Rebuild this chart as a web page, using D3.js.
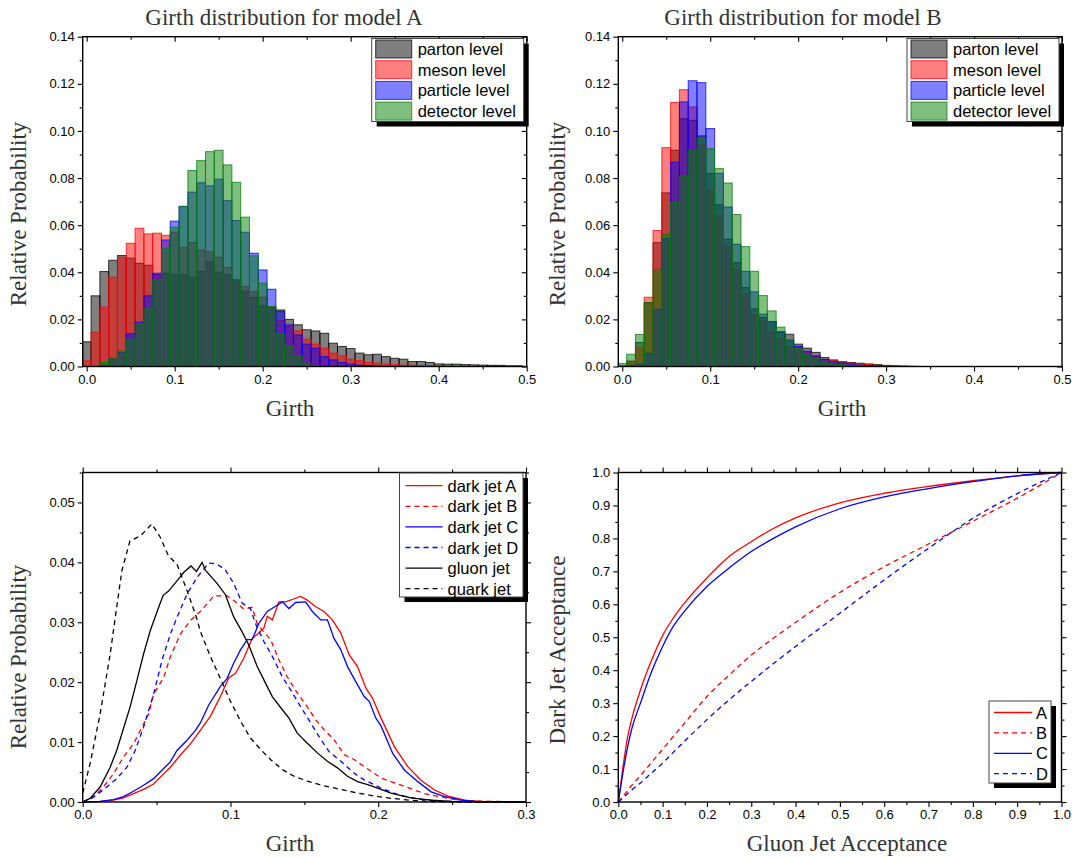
<!DOCTYPE html>
<html lang="en">
<head>
<meta charset="utf-8">
<title>Girth distributions</title>
<style>
  body { margin: 0; background: #fff; }
  .lbl { font-family: "Liberation Serif", "Times New Roman", serif; font-size: 23px; fill: #333; }
  .leg { font-family: "Liberation Sans", Arial, sans-serif; font-size: 16.5px; fill: #000; }
</style>
</head>
<body>
<svg id="chart" width="1072" height="858"></svg>
<script src="https://d3js.org/d3.v7.min.js"></script>
<script>
// ---- histogram data (bin width 0.01, centres 0.00 ... 0.49) ----
const binCenters = [0.00,0.01,0.02,0.03,0.04,0.05,0.06,0.07,0.08,0.09,
                    0.10,0.11,0.12,0.13,0.14,0.15,0.16,0.17,0.18,0.19,
                    0.20,0.21,0.22,0.23,0.24,0.25,0.26,0.27,0.28,0.29,
                    0.30,0.31,0.32,0.33,0.34,0.35,0.36,0.37,0.38,0.39,
                    0.40,0.41,0.42,0.43,0.44,0.45,0.46,0.47,0.48,0.49];
const levelNames = ["parton level", "meson level", "particle level", "detector level"];

// model A
const partonA = [0.0105,0.030,0.0403,0.0451,0.0471,0.046,0.0438,0.043,0.039,0.0396,
                 0.0389,0.0389,0.0379,0.0403,0.0445,0.040,0.0389,0.0368,0.032,0.0293,
                 0.0257,0.025,0.024,0.020,0.0177,0.0156,0.0151,0.0141,0.0099,0.0085,
                 0.0076,0.0057,0.005,0.0052,0.0042,0.0035,0.0031,0.0021,0.0021,0.0017,
                 0.0011,0.001,0.001,0.0008,0.0007,0.0006,0.0005,0.0005,0.0003,0.0003];
const mesonA = [0.0024,0.0146,0.0252,0.0379,0.0464,0.0523,0.0587,0.0563,0.0566,0.0557,
                0.057,0.0506,0.0526,0.0495,0.0487,0.0464,0.042,0.036,0.034,0.0318,
                0.0294,0.024,0.0195,0.017,0.0151,0.0116,0.0095,0.0078,0.0057,0.0045,
                0.0031,0.0025,0.0017,0.0014,0.0011,0.0008,0.0006,0.0005,0.0004,0.0003,
                0.0002,0.0002,0.0001,0.0001,0,0,0,0,0,0];
const particleA = [0,0,0.0005,0.003,0.006,0.0139,0.0188,0.030,0.0396,0.0537,
                   0.0617,0.068,0.074,0.078,0.0767,0.0795,0.0704,0.062,0.057,0.0481,
                   0.041,0.0328,0.0233,0.0177,0.0134,0.0095,0.0078,0.0042,0.0028,0.0017,
                   0.001,0.0006,0.0004,0.0002,0.0001,0,0,0,0,0,
                   0,0,0,0,0,0,0,0,0,0];
const detectorA = [0,0,0.0017,0.0037,0.0065,0.0116,0.0182,0.0245,0.0368,0.0502,
                   0.0591,0.0679,0.0832,0.0874,0.0912,0.0918,0.0856,0.0782,0.0634,0.047,
                   0.0354,0.0255,0.0139,0.0088,0.0045,0.0014,0.0005,0,0,0,
                   0,0,0,0,0,0,0,0,0,0,
                   0,0,0,0,0,0,0,0,0,0];

// model B
const partonB = [0.0003,0.0023,0.0102,0.027,0.0526,0.0737,0.0918,0.1052,0.1045,0.0979,
                 0.0819,0.0687,0.054,0.0441,0.0335,0.0245,0.0208,0.019,0.0147,0.0137,
                 0.0095,0.0078,0.006,0.0038,0.0028,0.002,0.0017,0.0014,0.0011,0.0008,
                 0.0005,0.0003,0.0002,0.0001,0,0,0,0,0,0,
                 0,0,0,0,0,0,0,0,0,0];
const mesonB = [0.0002,0.0015,0.0079,0.0294,0.0577,0.0929,0.1121,0.1175,0.1102,0.0943,
                0.0748,0.0642,0.051,0.0413,0.0307,0.0218,0.0194,0.0147,0.0119,0.0083,
                0.0085,0.006,0.0045,0.003,0.0025,0.0021,0.0015,0.0012,0.0008,0.0005,
                0.0003,0.0002,0.0001,0,0,0,0,0,0,0,
                0,0,0,0,0,0,0,0,0,0];
const particleB = [0,0.0003,0.001,0.0055,0.0243,0.0543,0.0868,0.1123,0.1213,0.1205,
                   0.101,0.082,0.0677,0.0519,0.0404,0.0317,0.0222,0.019,0.0147,0.0112,
                   0.0085,0.0065,0.0045,0.003,0.002,0.0015,0.001,0.0006,0.0004,0.0002,
                   0,0,0,0,0,0,0,0,0,0,
                   0,0,0,0,0,0,0,0,0,0];
const detectorB = [0.0013,0.0052,0.0136,0.0272,0.0412,0.0561,0.0697,0.0808,0.0918,0.0967,
                   0.0925,0.084,0.0779,0.0645,0.0509,0.0404,0.0301,0.0236,0.0167,0.0112,
                   0.0076,0.0055,0.0035,0.002,0.0012,0.0008,0.0005,0.0003,0,0,
                   0,0,0,0,0,0,0,0,0,0,
                   0,0,0,0,0,0,0,0,0,0];

// ---- girth curves [girth, probability] ----
const darkJetA = [[0,0],[0.0118,0.0001],[0.0208,0.0003],[0.0276,0.0007],[0.0344,0.0014],[0.0412,0.0021],[0.048,0.003],
  [0.0536,0.0044],[0.0593,0.0058],[0.066,0.0078],[0.0729,0.0097],[0.0774,0.0112],[0.0864,0.0143],[0.0932,0.0176],
  [0.0988,0.0207],[0.1034,0.0215],[0.109,0.024],[0.1147,0.0273],[0.1192,0.0282],[0.1226,0.029],[0.1249,0.031],
  [0.1283,0.0304],[0.1328,0.0334],[0.1373,0.0334],[0.1418,0.0338],[0.1475,0.0343],[0.152,0.0337],[0.1577,0.0326],
  [0.1633,0.0318],[0.169,0.0304],[0.1747,0.0282],[0.1803,0.0246],[0.186,0.0226],[0.1917,0.019],[0.1962,0.0173],
  [0.2019,0.014],[0.211,0.0092],[0.22,0.0059],[0.2291,0.0036],[0.2382,0.002],[0.2472,0.001],[0.2585,0.0003],
  [0.2676,0.0001],[0.3,0]];
const darkJetB = [[0,0],[0.0072,0.0008],[0.014,0.0025],[0.0208,0.0047],[0.0276,0.0075],[0.0344,0.0097],[0.0412,0.013],
  [0.0446,0.0147],[0.048,0.018],[0.0548,0.0208],[0.0593,0.0242],[0.066,0.028],[0.0729,0.0303],[0.0796,0.0318],
  [0.0887,0.0344],[0.0977,0.0344],[0.1034,0.0334],[0.109,0.0322],[0.1147,0.0325],[0.118,0.0298],[0.1215,0.0287],
  [0.1272,0.0271],[0.1328,0.0237],[0.1384,0.0209],[0.1452,0.0182],[0.152,0.0159],[0.1577,0.0137],[0.1633,0.0121],
  [0.1701,0.0104],[0.1769,0.0079],[0.1837,0.0071],[0.1905,0.0059],[0.1973,0.0048],[0.2019,0.004],[0.2155,0.0028],
  [0.2313,0.0014],[0.2472,0.0006],[0.26,0.0002],[0.3,0]];
const darkJetC = [[0,0],[0.0118,0.0001],[0.0208,0.0004],[0.0276,0.0009],[0.0344,0.0018],[0.0412,0.0028],[0.048,0.0039],
  [0.0536,0.0053],[0.0593,0.0067],[0.0638,0.0086],[0.0706,0.0103],[0.0762,0.0119],[0.0796,0.0132],[0.0853,0.0162],
  [0.0932,0.0193],[0.0977,0.0206],[0.1022,0.0232],[0.1068,0.0254],[0.1113,0.0271],[0.1147,0.0271],[0.1192,0.0298],
  [0.1249,0.0318],[0.1294,0.0325],[0.1351,0.0334],[0.1396,0.0323],[0.1441,0.0333],[0.1509,0.0334],[0.1554,0.0318],
  [0.1611,0.0304],[0.1656,0.0304],[0.1701,0.0273],[0.1747,0.0254],[0.1792,0.0226],[0.1848,0.0201],[0.1905,0.0176],
  [0.1939,0.0168],[0.1984,0.014],[0.2019,0.0127],[0.2098,0.0081],[0.2178,0.0053],[0.2268,0.0034],[0.2358,0.0017],
  [0.2449,0.0009],[0.2562,0.0003],[0.27,0],[0.3,0]];
const darkJetD = [[0,0],[0.0072,0.0008],[0.0163,0.0025],[0.023,0.0039],[0.0299,0.0058],[0.0355,0.0086],[0.0412,0.0125],
  [0.048,0.018],[0.0536,0.0236],[0.0593,0.028],[0.0638,0.0308],[0.0706,0.0347],[0.0774,0.0375],[0.0853,0.0399],
  [0.091,0.0397],[0.0966,0.0387],[0.1022,0.0365],[0.1079,0.0332],[0.1135,0.0323],[0.1169,0.0298],[0.1226,0.0268],
  [0.1283,0.0243],[0.1351,0.0209],[0.1407,0.0187],[0.1475,0.0159],[0.1543,0.0132],[0.16,0.0109],[0.1667,0.0084],
  [0.1747,0.0068],[0.1837,0.0048],[0.1905,0.0037],[0.1973,0.0029],[0.2019,0.0023],[0.215,0.0011],[0.23,0.0004],
  [0.245,0.0001],[0.3,0]];
const gluonJet = [[0,0],[0.005,0.0006],[0.0118,0.0025],[0.0186,0.0058],[0.023,0.0086],[0.0265,0.0114],[0.032,0.0158],
  [0.0367,0.0203],[0.0412,0.0247],[0.0457,0.0286],[0.0514,0.0325],[0.0545,0.0345],[0.0581,0.0352],[0.0638,0.0369],
  [0.0683,0.0383],[0.0733,0.0394],[0.077,0.0385],[0.0808,0.04],[0.083,0.0387],[0.0909,0.0365],[0.0966,0.0346],
  [0.1022,0.0309],[0.1079,0.0284],[0.1124,0.0262],[0.1181,0.0226],[0.1238,0.0198],[0.1283,0.0176],[0.1351,0.0154],
  [0.1396,0.014],[0.1452,0.0115],[0.152,0.0098],[0.1588,0.0082],[0.1656,0.0068],[0.1724,0.0057],[0.1792,0.0043],
  [0.186,0.0034],[0.1928,0.0029],[0.1996,0.0023],[0.2086,0.0015],[0.222,0.0007],[0.236,0.0003],[0.25,0.0001],[0.3,0]];
const quarkJet = [[0,0.0015],[0.005,0.0064],[0.0118,0.0147],[0.0186,0.0247],[0.023,0.0325],[0.0265,0.0386],[0.032,0.0436],
  [0.039,0.0444],[0.0468,0.0464],[0.0525,0.0442],[0.058,0.0411],[0.0638,0.0397],[0.0706,0.0353],[0.077,0.0308],
  [0.0796,0.0285],[0.0864,0.0243],[0.0932,0.0206],[0.1,0.0168],[0.1068,0.0135],[0.1135,0.0107],[0.1203,0.0088],
  [0.1271,0.0071],[0.1351,0.0054],[0.143,0.0043],[0.152,0.0035],[0.1633,0.0027],[0.1747,0.0021],[0.186,0.0015],
  [0.1973,0.001],[0.209,0.0006],[0.222,0.0003],[0.236,0.0001],[0.25,0],[0.3,0]];

// ---- acceptance curves ----
const gluonAcc = [0,0.01,0.02,0.03,0.05,0.075,0.1,0.125,0.15,0.2,0.25,0.3,0.35,0.4,0.5,0.6,0.7,0.8,0.9,1.0];
const accA = [0,0.10,0.19,0.25,0.34,0.43,0.505,0.56,0.605,0.68,0.745,0.79,0.83,0.862,0.908,0.937,0.958,0.975,0.99,1.0];
const accB = [0,0.016,0.033,0.05,0.08,0.12,0.16,0.2,0.24,0.32,0.385,0.446,0.497,0.545,0.636,0.714,0.783,0.852,0.922,1.0];
const accC = [0,0.085,0.16,0.22,0.30,0.395,0.472,0.535,0.58,0.654,0.71,0.76,0.80,0.835,0.89,0.926,0.951,0.972,0.99,1.0];
const accD = [0,0.012,0.024,0.036,0.058,0.088,0.118,0.152,0.185,0.25,0.31,0.366,0.42,0.472,0.573,0.674,0.77,0.861,0.936,1.0];

const svg = d3.select("#chart");
const fmt1 = d3.format(".1f"), fmt2 = d3.format(".2f");

// draws the frame + ticks of one panel
function drawAxes(g, x, y, o) {
  const [x0, x1] = x.range(), [y0, y1] = y.range();
  const tickFont = a => a.attr("font-size", 13).attr("font-family", "Liberation Sans, Arial, sans-serif")
                         .call(s => s.select(".domain").remove())
                         .call(s => s.selectAll(".tick line").attr("stroke", "#000").attr("stroke-width", 1.1))
                         .call(s => s.selectAll(".tick text").attr("fill", "#000"));
  const mk = (axisFn, scale, vals, size, fmt, tr) =>
    g.append("g").attr("transform", tr)
      .call(axisFn(scale).tickValues(vals).tickSize(size).tickPadding(3).tickFormat(fmt))
      .call(tickFont);
  const dirT = o.topIn ? -1 : 1, dirR = o.rightIn ? -1 : 1;
  mk(d3.axisBottom, x, o.xMajor, 5, o.xFmt, `translate(0,${y0})`);
  mk(d3.axisBottom, x, o.xMinor, 3, "", `translate(0,${y0})`);
  mk(d3.axisLeft, y, o.yMajor, 5, o.yFmt, `translate(${x0},0)`);
  mk(d3.axisLeft, y, o.yMinor, 3, "", `translate(${x0},0)`);
  mk(d3.axisTop, x, o.xMajor, 5 * dirT, "", `translate(0,${y1})`);
  mk(d3.axisTop, x, o.xMinor, 3 * dirT, "", `translate(0,${y1})`);
  mk(d3.axisRight, y, o.yMajor, 5 * dirR, "", `translate(${x1},0)`);
  mk(d3.axisRight, y, o.yMinor, 3 * dirR, "", `translate(${x1},0)`);
  g.append("rect").attr("x", x0).attr("y", y1).attr("width", x1 - x0).attr("height", y0 - y1)
    .attr("fill", "none").attr("stroke", "#000").attr("stroke-width", 1.4);
}

function legendBox(g, bx, by, bw, bh) {
  g.append("rect").attr("x", bx + 5).attr("y", by + 5).attr("width", bw).attr("height", bh).attr("fill", "#000");
  g.append("rect").attr("x", bx).attr("y", by).attr("width", bw).attr("height", bh)
    .attr("fill", "#fff").attr("stroke", "#444").attr("stroke-width", 1);
}

const levelColors = ["#000000", "#ff0000", "#0000ff", "#008000"];

function histPanel(series, xr, title, titleX, labelX, ylx) {
  const g = svg.append("g");
  const x = d3.scaleLinear().domain([-0.0045, 0.5]).range(xr);
  const y = d3.scaleLinear().domain([0, 0.14]).range([366.5, 36.7]);
  const bw = x(0.01) - x(0);
  series.forEach((vals, si) => {
    const col = levelColors[si];
    g.append("g").selectAll("rect")
      .data(binCenters.map((c, i) => ({ c, v: vals[i] })).filter(d => d.v > 0))
      .join("rect")
      .attr("x", d => Math.max(x(d.c) - bw / 2, xr[0]))
      .attr("width", d => x(d.c) + bw / 2 - Math.max(x(d.c) - bw / 2, xr[0]))
      .attr("y", d => y(d.v))
      .attr("height", d => y(0) - y(d.v))
      .attr("fill", col).attr("fill-opacity", 0.5)
      .attr("stroke", col).attr("stroke-opacity", 0.75).attr("stroke-width", 1);
  });
  drawAxes(g, x, y, {
    xMajor: [0, 0.1, 0.2, 0.3, 0.4, 0.5], xMinor: [0.05, 0.15, 0.25, 0.35, 0.45], xFmt: fmt1,
    yMajor: [0, 0.02, 0.04, 0.06, 0.08, 0.10, 0.12, 0.14], yMinor: [0.01, 0.03, 0.05, 0.07, 0.09, 0.11, 0.13], yFmt: fmt2,
    topIn: true, rightIn: true
  });
  // legend
  const lx = xr[1] - 155, ly = 38.5;
  legendBox(g, lx, ly, 152, 83);
  levelNames.forEach((nm, i) => {
    const cy = ly + 10.5 + 20.7 * i;
    g.append("rect").attr("x", lx + 4).attr("y", cy - 9).attr("width", 36).attr("height", 18)
      .attr("fill", levelColors[i]).attr("fill-opacity", 0.5).attr("stroke", levelColors[i]).attr("stroke-opacity", 0.75);
    g.append("text").attr("class", "leg").attr("x", lx + 46).attr("y", cy + 6).text(nm);
  });
  g.append("text").attr("class", "lbl").attr("x", titleX).attr("y", 25).attr("text-anchor", "middle").text(title);
  g.append("text").attr("class", "lbl").attr("x", labelX).attr("y", 416).attr("text-anchor", "middle").text("Girth");
  g.append("text").attr("class", "lbl").attr("text-anchor", "middle")
    .attr("transform", `translate(${ylx},214) rotate(-90)`).text("Relative Probability");
}

histPanel([partonA, mesonA, particleA, detectorA], [82.7, 526.7], "Girth distribution for model A", 284, 290, 26);
histPanel([partonB, mesonB, particleB, detectorB], [618.3, 1062], "Girth distribution for model B", 803, 842, 565);

// ---- bottom left: girth curves ----
{
  const g = svg.append("g");
  const x = d3.scaleLinear().domain([0, 0.3]).range([82.7, 526]);
  const y = d3.scaleLinear().domain([0, 0.055]).range([802, 472.5]);
  const curves = [
    { name: "dark jet A", data: darkJetA, color: "#ff0000", dash: null },
    { name: "dark jet B", data: darkJetB, color: "#ff0000", dash: "5,4" },
    { name: "dark jet C", data: darkJetC, color: "#0000ff", dash: null },
    { name: "dark jet D", data: darkJetD, color: "#0000ff", dash: "5,4" },
    { name: "gluon jet", data: gluonJet, color: "#000000", dash: null },
    { name: "quark jet", data: quarkJet, color: "#000000", dash: "5,4" }
  ];
  const line = d3.line().x(d => x(d[0])).y(d => y(d[1]));
  curves.forEach(c => {
    g.append("path").attr("d", line(c.data)).attr("fill", "none").attr("stroke", c.color)
      .attr("stroke-width", 1.3).attr("stroke-dasharray", c.dash);
  });
  drawAxes(g, x, y, {
    xMajor: [0, 0.1, 0.2, 0.3], xMinor: [0.05, 0.15, 0.25], xFmt: fmt1,
    yMajor: [0, 0.01, 0.02, 0.03, 0.04, 0.05], yMinor: [0.005, 0.015, 0.025, 0.035, 0.045, 0.055], yFmt: fmt2,
    topIn: false, rightIn: false
  });
  const lx = 399.5, ly = 473;
  legendBox(g, lx, ly, 123.5, 124);
  curves.forEach((c, i) => {
    const cy = ly + 12.7 + 20.6 * i;
    g.append("line").attr("x1", lx + 6).attr("x2", lx + 43).attr("y1", cy).attr("y2", cy)
      .attr("stroke", c.color).attr("stroke-width", 1.3).attr("stroke-dasharray", c.dash);
    g.append("text").attr("class", "leg").attr("x", lx + 48).attr("y", cy + 6).text(c.name);
  });
  g.append("text").attr("class", "lbl").attr("x", 290).attr("y", 851).attr("text-anchor", "middle").text("Girth");
  g.append("text").attr("class", "lbl").attr("text-anchor", "middle")
    .attr("transform", "translate(26,657) rotate(-90)").text("Relative Probability");
}

// ---- bottom right: acceptance ----
{
  const g = svg.append("g");
  const x = d3.scaleLinear().domain([0, 1]).range([618.3, 1061.5]);
  const y = d3.scaleLinear().domain([0, 1]).range([802, 472.5]);
  const rocs = [
    { name: "A", vals: accA, color: "#ff0000", dash: null },
    { name: "B", vals: accB, color: "#ff0000", dash: "5,4" },
    { name: "C", vals: accC, color: "#0000ff", dash: null },
    { name: "D", vals: accD, color: "#0000ff", dash: "5,4" }
  ];
  const line = d3.line().curve(d3.curveMonotoneX).x((d, i) => x(gluonAcc[i])).y(d => y(d));
  rocs.forEach(r => {
    g.append("path").attr("d", line(r.vals)).attr("fill", "none").attr("stroke", r.color)
      .attr("stroke-width", 1.3).attr("stroke-dasharray", r.dash);
  });
  const ticks = d3.range(0, 11).map(i => i / 10);
  const minors = d3.range(0, 10).map(i => i / 10 + 0.05);
  drawAxes(g, x, y, {
    xMajor: ticks, xMinor: minors, xFmt: fmt1,
    yMajor: ticks, yMinor: minors, yFmt: fmt1,
    topIn: false, rightIn: false
  });
  const lx = 989, ly = 701;
  legendBox(g, lx, ly, 62, 82);
  rocs.forEach((r, i) => {
    const cy = ly + 11.5 + 20.4 * i;
    g.append("line").attr("x1", lx + 5).attr("x2", lx + 43).attr("y1", cy).attr("y2", cy)
      .attr("stroke", r.color).attr("stroke-width", 1.3).attr("stroke-dasharray", r.dash);
    g.append("text").attr("class", "leg").attr("x", lx + 47).attr("y", cy + 6).text(r.name);
  });
  g.append("text").attr("class", "lbl").attr("x", 847).attr("y", 851).attr("text-anchor", "middle").text("Gluon Jet Acceptance");
  g.append("text").attr("class", "lbl").attr("text-anchor", "middle")
    .attr("transform", "translate(565,650) rotate(-90)").text("Dark Jet Acceptance");
}
</script>
</body>
</html>
